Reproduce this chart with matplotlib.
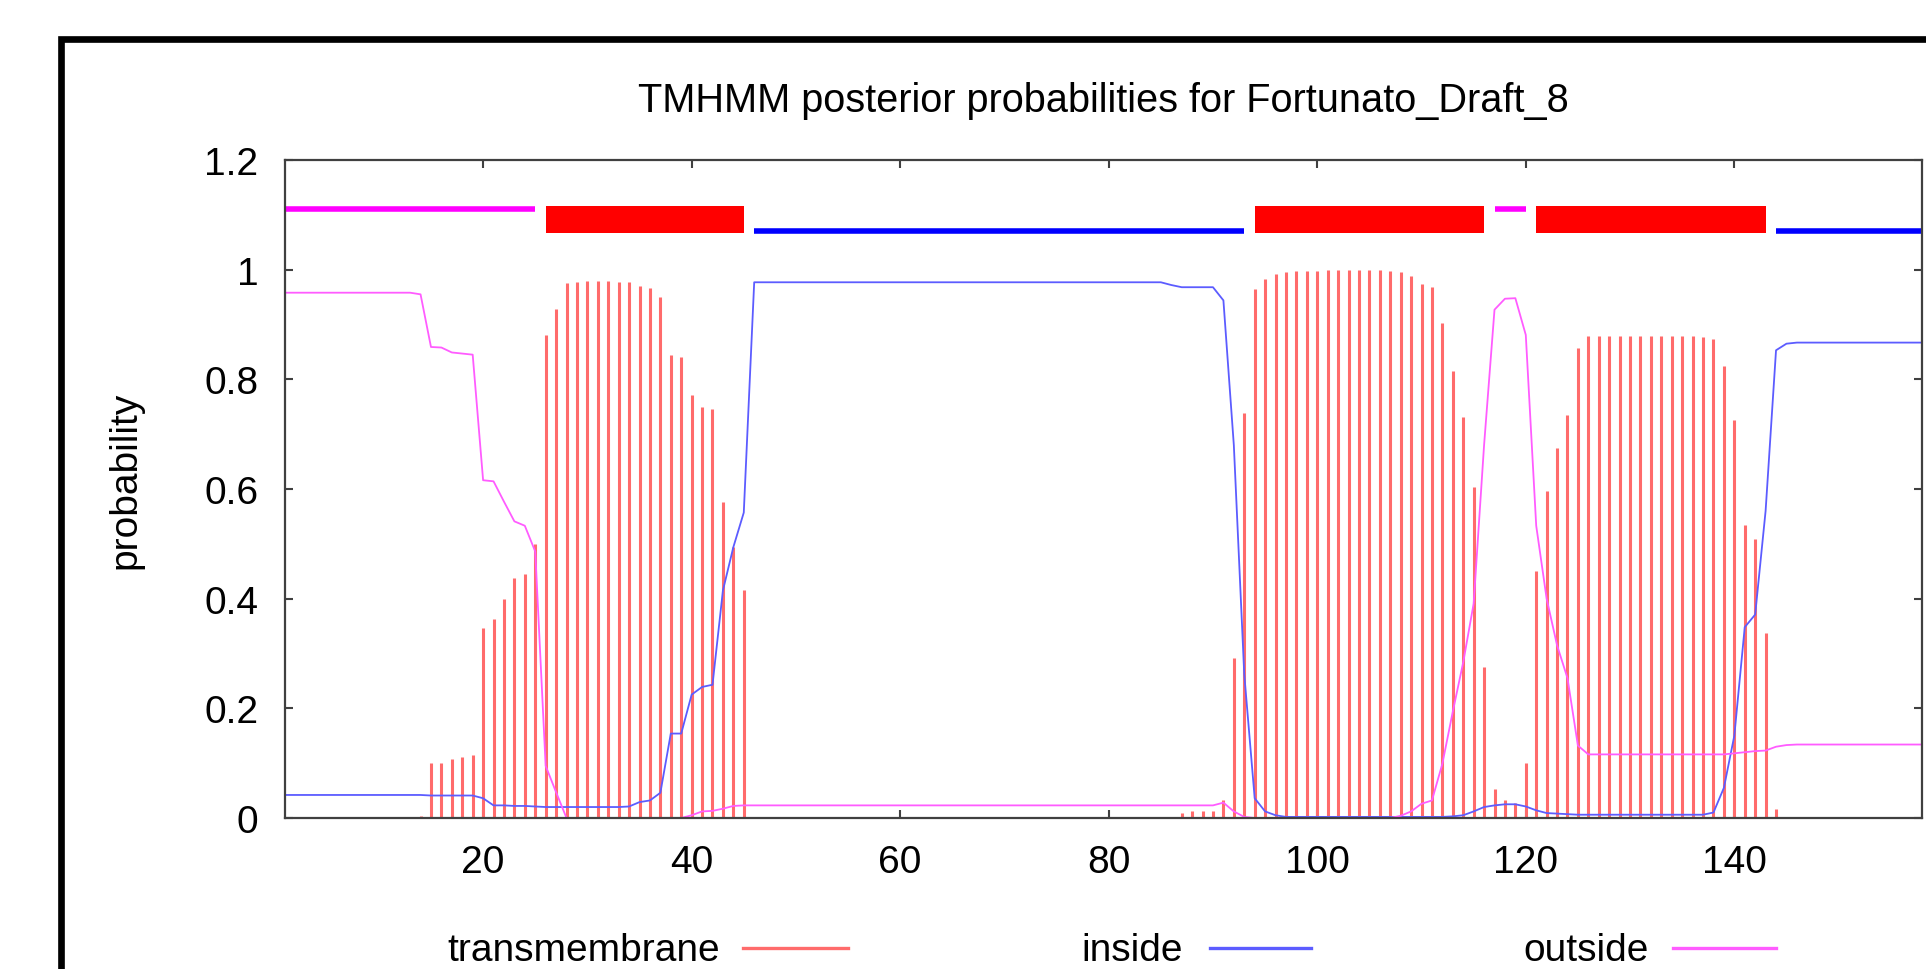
import numpy as np
import matplotlib
matplotlib.use('Agg')
import matplotlib.pyplot as plt
from matplotlib.lines import Line2D

plt.rcParams['font.family'] = ['Liberation Sans', 'DejaVu Sans']

# posterior probabilities per residue (1..158)
transmembrane = [
    0, 0, 0, 0, 0, 0, 0, 0, 0, 0,
    0, 0, 0.002, 0.004, 0.101, 0.101, 0.108, 0.112, 0.114, 0.346,
    0.363, 0.399, 0.438, 0.445, 0.500, 0.881, 0.928, 0.975, 0.978, 0.979,
    0.979, 0.979, 0.978, 0.978, 0.971, 0.966, 0.950, 0.845, 0.841, 0.772,
    0.750, 0.745, 0.577, 0.495, 0.415, 0, 0, 0, 0, 0,
    0, 0, 0, 0, 0, 0, 0, 0, 0, 0,
    0, 0, 0, 0, 0, 0, 0, 0, 0, 0,
    0, 0, 0, 0, 0, 0, 0, 0, 0, 0,
    0, 0, 0, 0, 0, 0.002, 0.010, 0.012, 0.012, 0.012,
    0.032, 0.292, 0.739, 0.964, 0.983, 0.993, 0.995, 0.997, 0.998, 0.998,
    0.999, 0.999, 0.999, 0.999, 0.999, 0.999, 0.997, 0.995, 0.989, 0.974,
    0.968, 0.902, 0.815, 0.731, 0.604, 0.276, 0.053, 0.032, 0.028, 0.100,
    0.450, 0.596, 0.675, 0.735, 0.857, 0.879, 0.879, 0.879, 0.879, 0.879,
    0.879, 0.879, 0.879, 0.879, 0.879, 0.879, 0.877, 0.873, 0.825, 0.725,
    0.535, 0.508, 0.338, 0.016, 0.002, 0, 0, 0, 0, 0,
    0, 0, 0, 0, 0, 0, 0, 0,
]

inside = [
    0.042, 0.042, 0.042, 0.042, 0.042, 0.042, 0.042, 0.042, 0.042, 0.042,
    0.042, 0.042, 0.042, 0.042, 0.041, 0.041, 0.041, 0.041, 0.041, 0.036,
    0.023, 0.023, 0.022, 0.022, 0.021, 0.020, 0.020, 0.020, 0.020, 0.020,
    0.020, 0.020, 0.020, 0.021, 0.029, 0.032, 0.046, 0.154, 0.154, 0.225,
    0.239, 0.243, 0.415, 0.494, 0.557, 0.977, 0.977, 0.977, 0.977, 0.977,
    0.977, 0.977, 0.977, 0.977, 0.977, 0.977, 0.977, 0.977, 0.977, 0.977,
    0.977, 0.977, 0.977, 0.977, 0.977, 0.977, 0.977, 0.977, 0.977, 0.977,
    0.977, 0.977, 0.977, 0.977, 0.977, 0.977, 0.977, 0.977, 0.977, 0.977,
    0.977, 0.977, 0.977, 0.977, 0.977, 0.972, 0.968, 0.968, 0.968, 0.968,
    0.944, 0.680, 0.262, 0.036, 0.012, 0.005, 0.002, 0.002, 0.002, 0.002,
    0.002, 0.002, 0.002, 0.002, 0.002, 0.002, 0.002, 0.002, 0.002, 0.002,
    0.002, 0.002, 0.003, 0.005, 0.012, 0.020, 0.023, 0.025, 0.025, 0.021,
    0.014, 0.009, 0.008, 0.007, 0.006, 0.006, 0.006, 0.006, 0.006, 0.006,
    0.006, 0.006, 0.006, 0.006, 0.006, 0.006, 0.006, 0.010, 0.055, 0.150,
    0.348, 0.371, 0.560, 0.853, 0.865, 0.867, 0.867, 0.867, 0.867, 0.867,
    0.867, 0.867, 0.867, 0.867, 0.867, 0.867, 0.867, 0.867,
]

outside = [
    0.958, 0.958, 0.958, 0.958, 0.958, 0.958, 0.958, 0.958, 0.958, 0.958,
    0.958, 0.958, 0.958, 0.955, 0.859, 0.858, 0.849, 0.847, 0.845, 0.616,
    0.614, 0.577, 0.541, 0.533, 0.486, 0.095, 0.047, 0, 0, 0,
    0, 0, 0, 0, 0, 0, 0, 0, 0, 0.005,
    0.012, 0.013, 0.017, 0.022, 0.023, 0.023, 0.023, 0.023, 0.023, 0.023,
    0.023, 0.023, 0.023, 0.023, 0.023, 0.023, 0.023, 0.023, 0.023, 0.023,
    0.023, 0.023, 0.023, 0.023, 0.023, 0.023, 0.023, 0.023, 0.023, 0.023,
    0.023, 0.023, 0.023, 0.023, 0.023, 0.023, 0.023, 0.023, 0.023, 0.023,
    0.023, 0.023, 0.023, 0.023, 0.023, 0.023, 0.023, 0.023, 0.023, 0.023,
    0.028, 0.012, 0.002, 0, 0, 0, 0, 0, 0, 0,
    0, 0, 0, 0, 0, 0, 0, 0.004, 0.012, 0.026,
    0.032, 0.099, 0.194, 0.284, 0.391, 0.680, 0.927, 0.947, 0.948, 0.881,
    0.533, 0.400, 0.315, 0.255, 0.132, 0.116, 0.116, 0.116, 0.116, 0.116,
    0.116, 0.116, 0.116, 0.116, 0.116, 0.116, 0.116, 0.116, 0.116, 0.118,
    0.120, 0.122, 0.123, 0.130, 0.133, 0.134, 0.134, 0.134, 0.134, 0.134,
    0.134, 0.134, 0.134, 0.134, 0.134, 0.134, 0.134, 0.134,
]

# predicted topology segments (start, end)
topology = [
    ('outside', 1, 25),
    ('TMhelix', 26, 45),
    ('inside', 46, 93),
    ('TMhelix', 94, 116),
    ('outside', 117, 120),
    ('TMhelix', 121, 143),
    ('inside', 144, 158),
]

W, H = 1926, 970
fig = plt.figure(figsize=(W / 100, H / 100), dpi=100)
ax = fig.add_axes([285 / W, 1 - 819 / H, (1922 - 285) / W, (819 - 161) / H])

pos = np.arange(1, len(transmembrane) + 1)
ax.vlines(pos, 0, transmembrane, color='#ff6b6b', lw=2.2)
ax.plot(pos, inside, color='#5c5cff', lw=1.3)
ax.plot(pos, outside, color='#ff5cff', lw=1.3)

for kind, start, end in topology:
    if kind == 'TMhelix':
        ax.fill_between([start, end], 1.067, 1.117, color='#ff0000', lw=0)
    elif kind == 'inside':
        ax.plot([start, end], [1.071, 1.071], color='#0000ff', lw=4,
                solid_capstyle='butt')
    else:
        ax.plot([start, end], [1.111, 1.111], color='#ff00ff', lw=4,
                solid_capstyle='butt')

ax.set_xlim(1, 158)
ax.set_ylim(0, 1.2)
ax.set_xticks([20, 40, 60, 80, 100, 120, 140])
ax.set_yticks([0, 0.2, 0.4, 0.6, 0.8, 1.0, 1.2])
ax.set_yticklabels(['0', '0.2', '0.4', '0.6', '0.8', '1', '1.2'])
ax.tick_params(direction='in', length=6, width=1.5, top=True, right=True,
               color='#404040', labelsize=28, pad=19)
for s in ax.spines.values():
    s.set_color('#404040')
    s.set_linewidth(1.6)

fig.text(1103.5 / W, 1 - 112 / H, 'TMHMM posterior probabilities for Fortunato_Draft_8',
         ha='center', va='baseline', fontsize=28.6)
fig.text(125 / W, 490 / H, 'probability', rotation=90, ha='center', va='center',
         fontsize=28)

# legend row at the bottom
legend_items = [
    ('transmembrane', '#ff6b6b', 720, 743, 848),
    ('inside', '#5c5cff', 1183, 1210, 1311),
    ('outside', '#ff5cff', 1649, 1673, 1776),
]
for label, col, tx, x0, x1 in legend_items:
    fig.text(tx / W, 1 - 961 / H, label, ha='right', va='baseline', fontsize=28)
    fig.add_artist(Line2D([x0 / W, x1 / W], [1 - 949 / H, 1 - 949 / H],
                          transform=fig.transFigure, color=col, lw=2.4))

# black outer frame (cropped on the right and bottom)
fig.add_artist(Line2D([61 / W, 61 / W, 1.0], [0, 1 - 39.5 / H, 1 - 39.5 / H],
                      transform=fig.transFigure, color='black', lw=4.8,
                      solid_joinstyle='miter'))

fig.savefig('out.png', dpi=100)
